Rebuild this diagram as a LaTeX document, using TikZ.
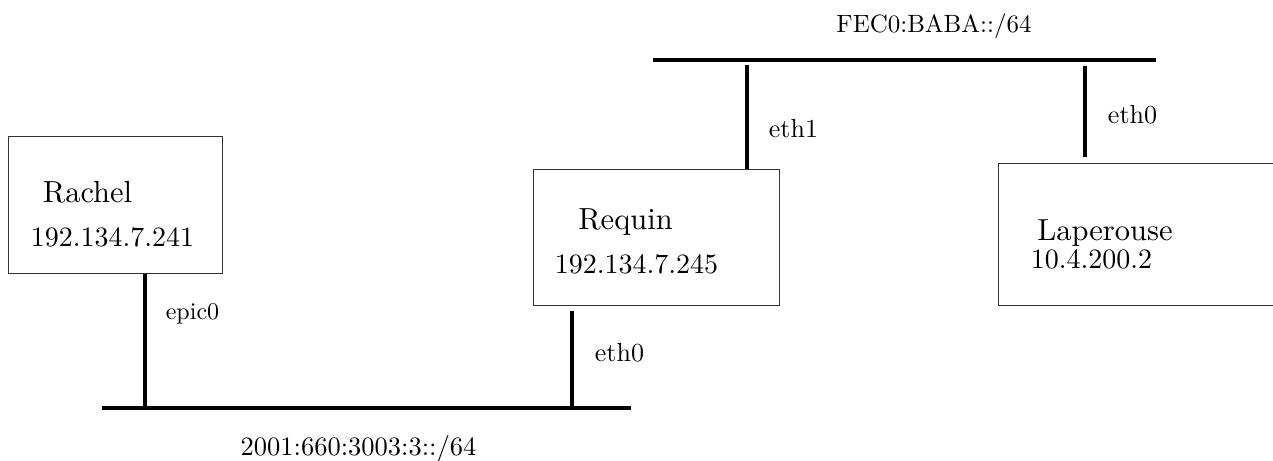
\documentclass[tikz,border=0pt]{standalone}
\usepackage{fontspec}
\setmainfont{lmroman10-regular.otf}
\begin{document}
\begin{tikzpicture}[x=1pt,y=-1pt,
  hostbox/.style={draw=black!80, line width=0.9pt, rectangle, inner sep=0pt, anchor=north west},
  link/.style={line width=3.8pt, black},
  bus/.style={line width=3.8pt, black},
  hostname/.style={anchor=base, inner sep=0pt, font=\fontsize{30.5}{34}\selectfont},
  addr/.style={anchor=base, inner sep=0pt, font=\fontsize{28}{32}\selectfont},
  iface/.style={anchor=base, inner sep=0pt, font=\fontsize{26}{30}\selectfont},
  netlabel/.style={anchor=base, inner sep=0pt, font=\fontsize{26.5}{30}\selectfont}]
  \useasboundingbox (0,0) rectangle (1273,460);

  % hosts
  \node[hostbox, minimum width=214pt, minimum height=137pt] (rachel) at (8,136) {};
  \node[hostbox, minimum width=246pt, minimum height=136pt] (requin) at (533,169) {};
  \node[hostbox, minimum width=290pt, minimum height=142pt] (laperouse) at (998,163) {};

  \node[hostname] (rachel-name) at (87.5,202) {Rachel};
  \node[addr] (rachel-ip) at (112.5,246) {192.134.7.241};
  \node[hostname] (requin-name) at (625.5,229) {Requin};
  \node[addr] (requin-ip) at (636.5,273) {192.134.7.245};
  \node[hostname] (laperouse-name) at (1105,240) {Laperouse};
  \node[addr] (laperouse-ip) at (1091.5,268) {10.4.200.2};

  % network segments
  \coordinate (lanA-w) at (102,408);
  \coordinate (lanA-e) at (631,408);
  \coordinate (lanB-w) at (653,60);
  \coordinate (lanB-e) at (1156,60);
  \draw[bus] (lanA-w) -- (lanA-e);
  \draw[bus] (lanB-w) -- (lanB-e);
  \node[netlabel] (lanA-label) at (358.5,455) {2001:660:3003:3::/64};
  \node[netlabel, font=\fontsize{25}{29}\selectfont] (lanB-label) at (934,33) {FEC0:BABA::/64};

  % interfaces
  \coordinate (rachel-tap) at (145,408);
  \draw[link] (rachel-tap |- rachel.south) -- (rachel-tap);
  \node[iface, font=\fontsize{24}{28}\selectfont] (epic0) at (192.5,319) {epic0};

  \coordinate (requin-low) at (572,311);
  \draw[link] (requin-low) -- (requin-low |- lanA-w);
  \node[iface] (requin-eth0) at (619.5,361) {eth0};

  \coordinate (requin-high) at (747,65);
  \draw[link] (requin-high) -- (requin-high |- requin.north);
  \node[iface] (requin-eth1) at (793.5,137) {eth1};

  \coordinate (laperouse-high) at (1085,66);
  \coordinate (laperouse-low) at (1085,157);
  \draw[link] (laperouse-high) -- (laperouse-low);
  \node[iface] (laperouse-eth0) at (1132.5,123) {eth0};
\end{tikzpicture}
\end{document}
